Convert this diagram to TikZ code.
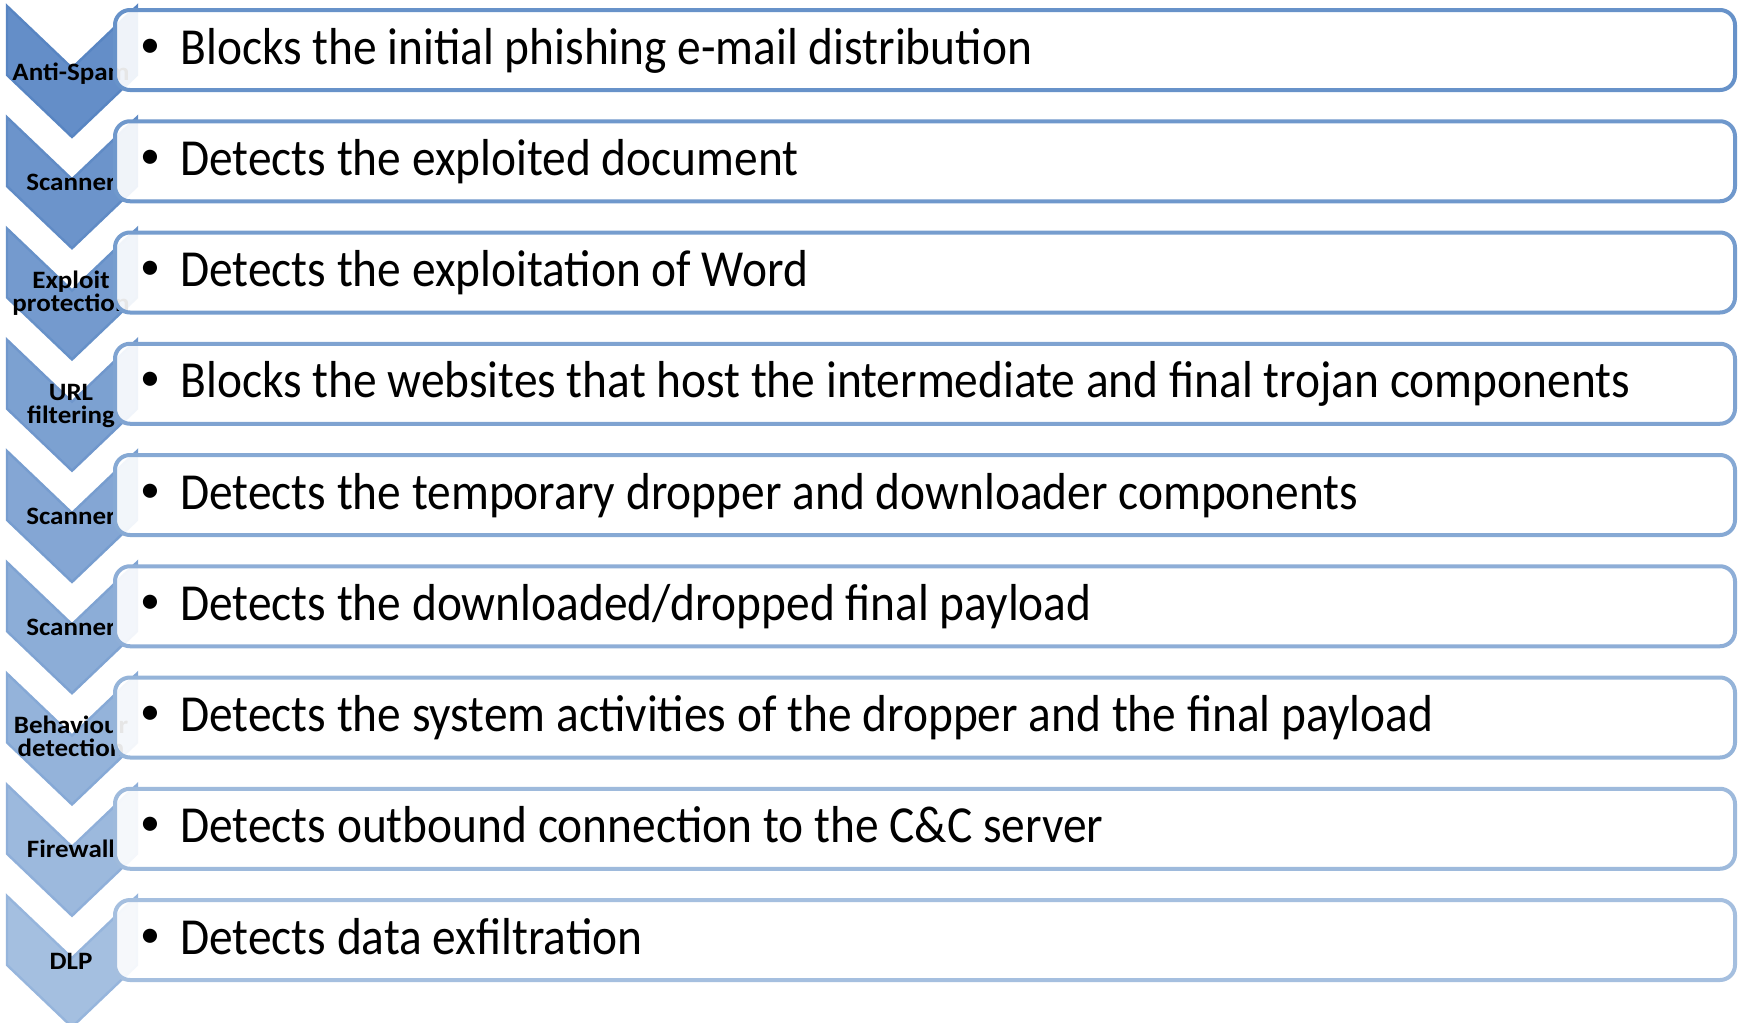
\documentclass[tikz,border=0pt]{standalone}
\usepackage{fontspec}
\setmainfont{Carlito}
\newfontfamily\lblfont[FakeStretch=1.08]{Carlito}
\definecolor{chevA}{RGB}{100,142,200}
\definecolor{chevB}{RGB}{164,191,224}
\definecolor{chlA}{RGB}{88,133,194}
\definecolor{chlB}{RGB}{150,181,220}
\definecolor{rectA}{RGB}{103,146,201}
\definecolor{rectB}{RGB}{165,191,223}
\newlength\wmain
\newcommand\mainfnt{\fontsize{26pt}{30pt}\selectfont}
\tikzset{
 chevron/.style={fill=cfill, draw=cline, line width=1.2pt, line join=miter},
 lbl/.style={font=\lblfont\bfseries\fontsize{12.5pt}{11.5pt}\selectfont, align=center, anchor=base, inner sep=0pt, text=black},
 bar/.style={draw=rline, line width=2pt, fill=white, fill opacity=0.9, rounded corners=7.5pt, minimum width=810pt, minimum height=40pt, inner sep=0pt},
 bul/.style={font=\fontsize{20pt}{24pt}\selectfont, anchor=center, inner sep=0pt},
 txt/.style={font=\mainfnt, anchor=base west, inner sep=0pt},
}
\newcommand\chevrow[4]{%
 \pgfmathsetmacro\T{6+#1*111.25}%
 \pgfmathsetmacro\R{10+#1*111.25}%
 \pgfmathtruncatemacro\pc{100-#1*12.5}%
 \colorlet{cfill}{chevA!\pc!chevB}%
 \colorlet{cline}{chlA!\pc!chlB}%
 \colorlet{rline}{rectA!\pc!rectB}%
 \draw[chevron] (7,\T) -- (72,\T+62) -- (137,\T) -- (137,\T+69) -- (72,\T+131) -- (7,\T+69) -- cycle;
 \node[lbl] (l#1) at (71,\T+#4) {#2};
 \node[bar] (b#1) at (925,\R+40) {};
 \node[bul] (u#1) at (150,\R+38) {•};
 \node[txt] (t#1) at (180,\R+54) {\scalebox{\sxm}[1]{#3}};
}
\begin{document}
\settowidth\wmain{\mainfnt Blocks the initial phishing e-mail distribution}%
\pgfmathsetmacro\sxm{426/\wmain}%
\begin{tikzpicture}[x=0.5pt,y=-0.5pt]
\useasboundingbox[fill=white] (0,0) rectangle (1742,1023);
\chevrow{0}{Anti-Spam}{Blocks the initial phishing e-mail distribution}{74}
\chevrow{1}{Scanner}{Detects the exploited document}{73}
\chevrow{2}{Exploit\\protection}{Detects the exploitation of Word}{83}
\chevrow{3}{URL\\filtering}{Blocks the websites that host the intermediate and final trojan components}{84}
\chevrow{4}{Scanner}{Detects the temporary dropper and downloader components}{73}
\chevrow{5}{Scanner}{Detects the downloaded/dropped final payload}{73}
\chevrow{6}{Behaviour\\detection}{Detects the system activities of the dropper and the final payload}{83}
\chevrow{7}{Firewall}{Detects outbound connection to the C\&C server}{73}
\chevrow{8}{DLP}{Detects data exfiltration}{73}
\end{tikzpicture}
\end{document}
